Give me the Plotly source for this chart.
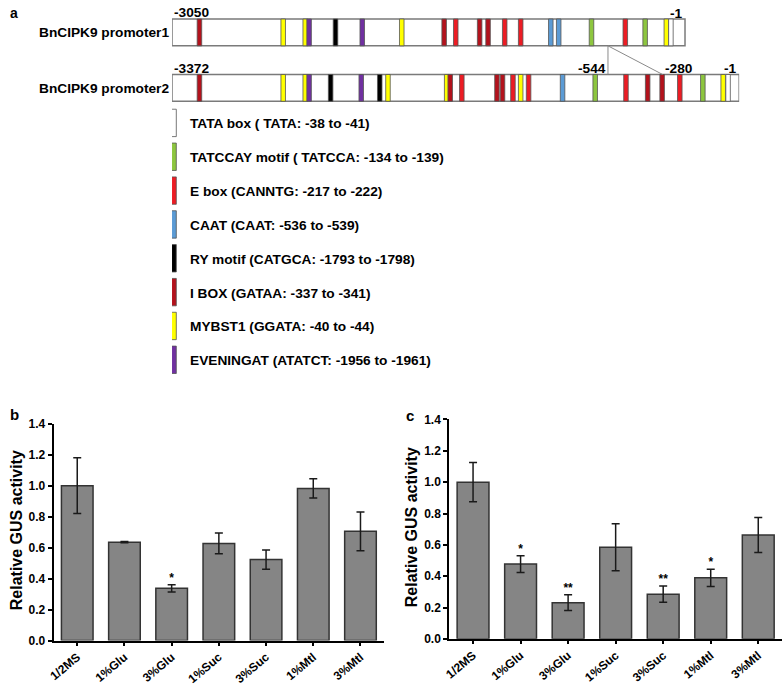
import plotly.graph_objects as go

W, H = 784, 686

# ---------------- panel a : promoter maps ----------------
# element positions are bp counted from the 5' end of each fragment
p1_len = 3050
p2_len = 3372
p1_pos = [163, 661, 792, 815, 972, 1131, 1366, 1618, 1687, 1829, 1879, 1978, 2073,
          2252, 2299, 2494, 2695, 2813, 2939, 2966]
p1_type = ["ibox", "myb", "myb", "even", "ry", "even", "myb", "ibox", "ebox", "ibox", "ibox",
           "ebox", "ebox", "caat", "caat", "tatccay", "ebox", "tatccay", "myb", "tata"]
p2_pos = [163, 661, 792, 815, 943, 1125, 1235, 1284, 1633, 1654, 1723, 1932, 1965, 2027,
          2073, 2120, 2322, 2516, 2699, 2828, 2914, 3019, 3156, 3277, 3306]
p2_type = ["ibox", "myb", "myb", "even", "ry", "even", "ry", "myb", "myb", "ibox", "ebox",
           "ibox", "ibox", "ebox", "myb", "ebox", "caat", "tatccay", "ebox", "ibox", "ibox",
           "ebox", "tatccay", "myb", "tata"]
# zoomed part of promoter1 shown on promoter2 (-544 .. -280)
zoom_start = 2592
zoom_end = 2917
zoom_labels = ["-544", "-280"]

motif_keys = ["tata", "tatccay", "ebox", "caat", "ry", "ibox", "myb", "even"]
motif_text = ["TATA box ( TATA: -38 to -41)",
              "TATCCAY motif ( TATCCA: -134 to -139)",
              "E box (CANNTG: -217 to -222)",
              "CAAT (CAAT: -536 to -539)",
              "RY motif (CATGCA: -1793 to -1798)",
              "I BOX (GATAA: -337 to -341)",
              "MYBST1 (GGATA: -40 to -44)",
              "EVENINGAT (ATATCT: -1956 to -1961)"]
motif_color = {"tata": "#ffffff", "tatccay": "#8dc63f", "ebox": "#ec1c24", "caat": "#5b9bd5",
               "ry": "#000000", "ibox": "#b3121c", "myb": "#ffff00", "even": "#7030a0"}

# ---------------- panels b, c : GUS activity ----------------
conds = ["1/2MS", "1%Glu", "3%Glu", "1%Suc", "3%Suc", "1%Mtl", "3%Mtl"]
b_mean = [1.0, 0.635, 0.337, 0.627, 0.523, 0.982, 0.705]
b_err = [0.18, 0.004, 0.024, 0.067, 0.062, 0.062, 0.125]
b_sig = ["", "", "*", "", "", "", ""]
c_mean = [1.0, 0.477, 0.231, 0.585, 0.285, 0.39, 0.663]
c_err = [0.125, 0.053, 0.05, 0.15, 0.052, 0.055, 0.112]
c_sig = ["", "*", "**", "", "**", "*", ""]

FONT = "Liberation Sans, Arial, sans-serif"
BP_PER_PX = 5.9


def px_x(p):
    return p / W


def px_y(p):
    return 1 - p / H


fig = go.Figure()

# promoter rows
row_top = [12.3, 69.0]
row_h = 27.4
el_w = 27
rows = [(p1_len, p1_pos, p1_type), (p2_len, p2_pos, p2_type)]
for (length, pos, types), top in zip(rows, row_top):
    fig.add_trace(go.Bar(x=[length / 2], y=[row_h], base=[top], width=[length],
                         marker=dict(color="white", line=dict(color="#7a7a7a", width=1.5)),
                         xaxis="x3", yaxis="y3", hoverinfo="skip"))
    fig.add_trace(go.Bar(x=pos, y=[row_h] * len(pos), base=[top] * len(pos),
                         width=[el_w] * len(pos),
                         marker=dict(color=[motif_color[t] for t in types],
                                     line=dict(color="#555555", width=0.8)),
                         xaxis="x3", yaxis="y3", hoverinfo="skip"))

# connector lines between the two maps
fig.add_trace(go.Scatter(x=[zoom_start, zoom_start, None, zoom_start, zoom_end],
                         y=[row_top[0] + row_h, row_top[1], None, row_top[0] + row_h, row_top[1]],
                         mode="lines", line=dict(color="#8a8a8a", width=1),
                         xaxis="x3", yaxis="y3", hoverinfo="skip"))

# legend swatches
leg_c0, leg_dy, leg_h = 118.5, 34.6, 28
leg_y = [leg_c0 + i * leg_dy for i in range(len(motif_keys))]
fig.add_trace(go.Bar(x=[11] * len(motif_keys), y=[leg_h] * len(motif_keys),
                     base=[c - leg_h / 2 for c in leg_y], width=[29] * len(motif_keys),
                     marker=dict(color=[motif_color[k] for k in motif_keys],
                                 line=dict(color="#555555", width=0.8)),
                     xaxis="x3", yaxis="y3", hoverinfo="skip"))

# bar charts
for mean, err, sig, xa, ya in [(b_mean, b_err, b_sig, "x", "y"), (c_mean, c_err, c_sig, "x2", "y2")]:
    fig.add_trace(go.Bar(x=conds, y=mean, width=0.67,
                         marker=dict(color="#858585", line=dict(color="#333333", width=1.5)),
                         error_y=dict(type="data", array=err, color="#1a1a1a", thickness=1.5, width=4),
                         xaxis=xa, yaxis=ya))
    fig.add_trace(go.Scatter(x=conds, y=[m + e for m, e in zip(mean, err)], text=sig,
                             mode="text", textposition="top center",
                             textfont=dict(family=FONT, size=12, color="black", weight="bold"),
                             xaxis=xa, yaxis=ya, hoverinfo="skip"))

ann = []


def label(text, x, y, xref="paper", yref="paper", xanchor="left", size=13.7, angle=0):
    ann.append(dict(text=text, x=x, y=y, xref=xref, yref=yref, xanchor=xanchor,
                    yanchor="middle", showarrow=False, textangle=angle,
                    font=dict(family=FONT, size=size, color="black", weight="bold")))


label("a", px_x(2), px_y(6), size=14)
label("b", px_x(2), px_y(417), size=15)
label("c", px_x(401), px_y(418), size=15)
label("BnCIPK9 promoter1", px_x(166), px_y(26), xanchor="right")
label("BnCIPK9 promoter2", px_x(166), px_y(83), xanchor="right")
label("-3050", 0, 6, "x3", "y3")
label("-1", p1_len, 6.5, "x3", "y3", xanchor="right")
label("-3372", 0, 63, "x3", "y3")
label("-1", p2_len, 63, "x3", "y3", xanchor="right")
label(zoom_labels[0], zoom_start, 63, "x3", "y3", xanchor="right")
label(zoom_labels[1], zoom_end, 63, "x3", "y3")
for txt, yc in zip(motif_text, leg_y):
    label(txt, px_x(183), px_y(yc + 1))
label("Relative GUS activity", px_x(10), px_y(535), xanchor="center", size=16, angle=-90)
label("Relative GUS activity", px_x(408), px_y(532), xanchor="center", size=16, angle=-90)

xa_style = dict(range=[-0.5, 6.5], showline=True, linecolor="black", linewidth=2,
                ticks="outside", ticklen=3, tickwidth=1.5, tickcolor="black", tickangle=-40,
                tickfont=dict(family=FONT, size=12, color="black", weight="bold"),
                showgrid=False, zeroline=False)
ya_style = dict(range=[0, 1.4], dtick=0.2, tickformat=".1f", showline=True, linecolor="black",
                linewidth=2, ticks="outside", ticklen=4, tickwidth=1.5, tickcolor="black",
                tickfont=dict(family=FONT, size=12, color="black", weight="bold"),
                showgrid=False, zeroline=False)

fig.update_layout(
    width=W, height=H, margin=dict(l=0, r=0, t=0, b=0),
    paper_bgcolor="white", plot_bgcolor="white",
    showlegend=False, barmode="overlay",
    annotations=ann,
    xaxis=dict(domain=[px_x(48), px_x(381)], anchor="y", **xa_style),
    yaxis=dict(domain=[px_y(647.7), px_y(426)], anchor="x", **ya_style),
    xaxis2=dict(domain=[px_x(446.7), px_x(782)], anchor="y2", **xa_style),
    yaxis2=dict(domain=[px_y(646), px_y(421.7)], anchor="x2", **ya_style),
    xaxis3=dict(domain=[px_x(167.3), px_x(167.3 + p2_len / BP_PER_PX)], range=[0, p2_len],
                anchor="y3", visible=False),
    yaxis3=dict(domain=[px_y(380), 1], range=[380, 0], anchor="x3", visible=False),
)

# drop the browser's default body margin so the figure sits at the page origin
fig.write_html("out.html", config={"displayModeBar": False},
               post_script="document.body.style.margin='0';")
